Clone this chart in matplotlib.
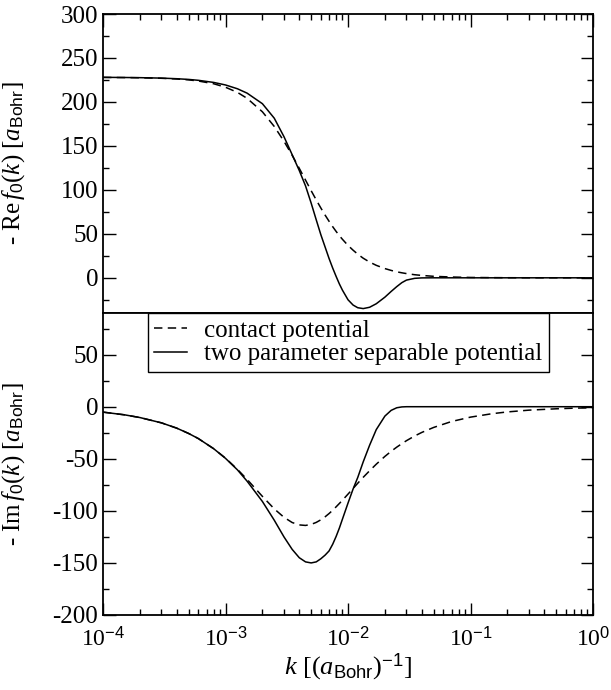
import numpy as np
import matplotlib
matplotlib.use('Agg')
import matplotlib.pyplot as plt
from matplotlib.ticker import FixedLocator, FixedFormatter, MultipleLocator, LogLocator, NullFormatter

plt.rcParams['font.family'] = ['Liberation Serif', 'DejaVu Serif']
plt.rcParams['mathtext.fontset'] = 'custom'
plt.rcParams['mathtext.rm'] = 'Liberation Serif'
plt.rcParams['mathtext.it'] = 'Liberation Serif:italic'
plt.rcParams['mathtext.sf'] = 'Liberation Sans'
plt.rcParams['axes.unicode_minus'] = False

# momentum grid (1/a_Bohr)
k = [1e-4, 1.5e-4, 2e-4, 3e-4, 4e-4, 5e-4, 6e-4, 8e-4, 1e-3, 1.25e-3,
     1.5e-3, 2e-3, 2.5e-3, 3e-3, 3.5e-3, 4e-3, 4.5e-3, 5e-3, 5.5e-3, 6e-3,
     6.5e-3, 7e-3, 7.5e-3, 8e-3, 8.5e-3, 9e-3, 1e-2, 1.1e-2, 1.2e-2, 1.33e-2,
     1.5e-2, 1.7e-2, 2e-2, 2.25e-2, 2.5e-2, 2.75e-2, 3e-2, 3.5e-2, 4e-2, 5e-2,
     7e-2, 1e-1, 1.5e-1, 2e-1, 3e-1, 5e-1, 7e-1, 1.0]

# - Re f0(k)
re_contact = [227.9, 227.7, 227.5, 226.9, 226.1, 225.1, 223.8, 220.7, 216.7, 210.9,
              204.1, 188.8, 172.1, 155.3, 139.3, 124.5, 111.1, 99.1, 88.6, 79.4,
              71.3, 64.3, 58.1, 52.7, 47.9, 43.8, 36.8, 31.4, 26.9, 22.3,
              17.9, 14.2, 10.5, 8.4, 6.8, 5.7, 4.8, 3.5, 2.7, 1.7,
              0.9, 0.4, 0.2, 0.1, 0.05, 0.02, 0.01, 0.0]
re_separable = [228.0, 227.8, 227.6, 227.1, 226.4, 225.6, 224.6, 222.2, 219.3, 215.0,
                210.0, 198.0, 181.5, 160.5, 140.0, 122.0, 104.5, 85.0, 66.0, 49.0,
                35.0, 22.0, 11.0, 1.5, -7.0, -14.0, -25.0, -31.0, -34.0, -35.0,
                -33.5, -29.5, -22.0, -15.5, -10.0, -5.5, -2.6, -0.6, -0.1, 0.0,
                0.0, 0.0, 0.0, 0.0, 0.0, 0.0, 0.0, 0.0]

# - Im f0(k)
im_contact = [-5.2, -7.8, -10.4, -15.5, -20.6, -25.7, -30.6, -40.3, -49.4, -60.1,
              -69.8, -86.1, -98.1, -106.2, -111.2, -113.5, -114.0, -113.0, -111.1, -108.6,
              -105.7, -102.6, -99.4, -96.1, -92.9, -89.8, -83.9, -78.5, -73.5, -67.8,
              -61.5, -55.2, -47.7, -42.8, -38.8, -35.5, -32.6, -28.1, -24.7, -19.9,
              -14.2, -10.0, -6.7, -5.0, -3.3, -2.0, -1.4, -1.0]
im_separable = [-5.2, -7.8, -10.4, -15.5, -20.6, -25.7, -30.6, -40.3, -49.6, -60.6,
                -71.5, -91.0, -109.0, -125.0, -137.0, -145.0, -149.0, -150.0, -149.0, -146.0,
                -142.5, -138.5, -132.0, -124.5, -116.5, -108.0, -92.5, -79.0, -68.0, -53.0,
                -37.0, -22.0, -9.0, -3.5, -1.0, -0.2, 0.0, 0.0, 0.0, 0.0,
                0.0, 0.0, 0.0, 0.0, 0.0, 0.0, 0.0, 0.0]

xticks = [1e-4, 1e-3, 1e-2, 1e-1, 1.0]
xticklabels = [r'$\mathrm{10}^{\mathsf{-4}}$', r'$\mathrm{10}^{\mathsf{-3}}$',
               r'$\mathrm{10}^{\mathsf{-2}}$', r'$\mathrm{10}^{\mathsf{-1}}$',
               r'$\mathrm{10}^{\mathsf{0}}$']

fig = plt.figure(figsize=(6.11, 6.90), dpi=100)
ax1 = fig.add_axes([0.1686, 0.5464, 0.8020, 0.4333])
ax2 = fig.add_axes([0.1686, 0.1087, 0.8020, 0.4377])

dash = (0, (5.5, 3.5))
ax1.plot(k, re_contact, color='k', lw=1.1, linestyle=dash, label='contact potential')
ax1.plot(k, re_separable, color='k', lw=1.1, label='two parameter separable potential')
ax2.plot(k, im_contact, color='k', lw=1.1, linestyle=dash, label='contact potential')
ax2.plot(k, im_separable, color='k', lw=1.1, label='two parameter separable potential')

for ax in (ax1, ax2):
    ax.set_xscale('log')
    ax.set_xlim(1e-4, 1.0)
    ax.yaxis.set_minor_locator(MultipleLocator(25))
    ax.yaxis.set_major_locator(MultipleLocator(50))
    ax.xaxis.set_major_locator(FixedLocator(xticks))
    ax.xaxis.set_minor_locator(LogLocator(base=10, subs=np.arange(2, 10)))
    ax.xaxis.set_minor_formatter(NullFormatter())
    ax.tick_params(which='major', direction='in', length=9, width=1.0)
    ax.tick_params(which='minor', direction='in', length=4.5, width=1.0)
    ax.tick_params(axis='y', which='both', left=True, right=True, labelsize=18)
    ax.tick_params(axis='x', labelsize=17)
    for s in ax.spines.values():
        s.set_linewidth(1.3)

ax1.set_ylim(-40, 300)
ax1.set_yticks([0, 50, 100, 150, 200, 250, 300])
ax1.tick_params(axis='x', which='both', top=True, bottom=False, labelbottom=False)

ax2.set_ylim(-200, 90)
ax2.set_yticks([-200, -150, -100, -50, 0, 50])
ax2.tick_params(axis='x', which='both', top=False, bottom=True)
ax2.xaxis.set_major_formatter(FixedFormatter(xticklabels))
ax2.tick_params(axis='x', which='major', pad=9)

ax1.set_ylabel(r'- Re$\,f_{\mathsf{0}}(k)$ [$a_{\mathsf{Bohr}}$]', fontsize=18)
ax2.set_ylabel(r'- Im$\,f_{\mathsf{0}}(k)$ [$a_{\mathsf{Bohr}}$]', fontsize=18)
ax2.set_xlabel(r'$k$ [($a_{\mathsf{Bohr}}$)$^{\mathsf{-1}}$]', fontsize=19, labelpad=0)
ax1.yaxis.set_label_coords(-0.155, 0.5)
ax2.yaxis.set_label_coords(-0.155, 0.5)

leg = ax2.legend(loc='upper left', bbox_to_anchor=(0.092, 1.0), borderaxespad=0,
                 fontsize=18, frameon=True, fancybox=False, framealpha=1,
                 edgecolor='k', handlelength=1.3, handletextpad=0.7,
                 labelspacing=0.05, borderpad=0.25)
leg.get_frame().set_linewidth(1.0)

fig.savefig('out.png', dpi=100)
